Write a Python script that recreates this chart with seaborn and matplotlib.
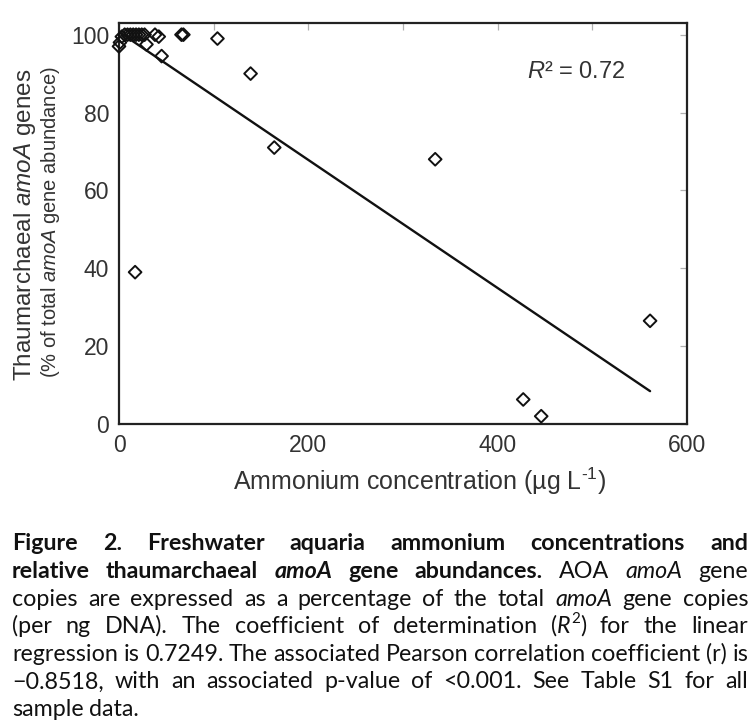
import matplotlib
matplotlib.use("Agg")
import matplotlib.pyplot as plt
from matplotlib import font_manager as fm
from matplotlib.transforms import IdentityTransform
import numpy as np
import pandas as pd
import seaborn as sns

# ---------------- data ----------------
ammonium = [0, 1, 3, 6, 9, 12, 15, 18, 21, 24, 27, 29, 38, 42, 45, 66, 68,
            104, 139, 164, 334, 17, 561, 427, 446]
thaum_pct = [97, 98, 99.5, 100, 100, 100, 100, 100, 100, 100, 100, 97.5, 100,
             99.5, 94.5, 100, 100, 99, 90, 71, 68, 39, 26.5, 6.3, 2]
x_ticks = [0, 100, 200, 300, 400, 500, 600]
x_tick_labels = ["0", "", "200", "", "400", "", "600"]
y_ticks = [0, 20, 40, 60, 80, 100]
r2_text = "0.72"

# ---------------- style ----------------
sns.set_theme(style="white")
plt.rcParams["font.family"] = ["Liberation Sans", "DejaVu Sans"]
plt.rcParams["mathtext.fontset"] = "custom"
plt.rcParams["mathtext.rm"] = "Liberation Sans"
plt.rcParams["mathtext.it"] = "Liberation Sans:italic"

W, H = 754, 725
fig = plt.figure(figsize=(W / 100, H / 100), dpi=100)
fig.patch.set_facecolor("white")

L, R, T, B = 119, 687, 23, 424
ax = fig.add_axes([L / W, 1 - B / H, (R - L) / W, (B - T) / H])

df = pd.DataFrame({"ammonium": ammonium, "thaum": thaum_pct})
sns.regplot(data=df, x="ammonium", y="thaum", ax=ax, scatter=False, ci=None,
            color="#111111", line_kws=dict(lw=1.7))
sns.scatterplot(data=df, x="ammonium", y="thaum", ax=ax, marker="D", s=42,
                facecolor="none", edgecolor="#111111", linewidth=1.4,
                clip_on=False, zorder=3)

ax.set_xlim(0, 600)
ax.set_ylim(0, 103)
ax.set_xticks(x_ticks)
ax.set_xticklabels(x_tick_labels)
ax.set_yticks(y_ticks)
ax.tick_params(direction="in", length=5, width=0.9, color="#b0b0b0",
               top=True, right=True, labelsize=16.5, pad=7,
               labelcolor="#333333")
for sp in ax.spines.values():
    sp.set_visible(True)
    sp.set_linewidth(1.6)
    sp.set_color("#222222")
ax.set_xlabel("")
ax.set_ylabel("")

ax.text(576 / W, 1 - 72 / H, "$R$² = " + r2_text, transform=fig.transFigure,
        ha="center", va="center", fontsize=17, color="#333333")

fig.text(420 / W, 1 - 481 / H, r"Ammonium concentration (µg L$^{\text{-1}}$)",
         ha="center", va="center", fontsize=18, color="#333333")
fig.text(25.5 / W, 1 - 225 / H, "Thaumarchaeal $amoA$ genes", rotation=90,
         ha="center", va="center", fontsize=17.5, color="#333333")
fig.text(50 / W, 1 - 222.5 / H, "(% of total $amoA$ gene abundance)",
         rotation=90, ha="center", va="center", fontsize=14.5,
         color="#333333")

# ---------------- caption (justified) ----------------
def _w(v):
    if isinstance(v, str):
        return fm.weight_dict.get(v, 400)
    return v

def has_full(fam):
    st = set()
    for f in fm.fontManager.ttflist:
        if f.name == fam:
            st.add((_w(f.weight) >= 600, f.style in ("italic", "oblique")))
    return {(False, False), (True, False), (False, True), (True, True)} <= st

cap_family = "DejaVu Sans"
for fam in ["Lato", "Open Sans", "Noto Sans", "Liberation Sans"]:
    if has_full(fam):
        cap_family = fam
        break

caption = [
    [[("Figure", "b")], [("2.", "b")], [("Freshwater", "b")], [("aquaria", "b")],
     [("ammonium", "b")], [("concentrations", "b")], [("and", "b")]],
    [[("relative", "b")], [("thaumarchaeal", "b")], [("amoA", "bi")],
     [("gene", "b")], [("abundances.", "b")], [("AOA", "r")], [("amoA", "i")],
     [("gene", "r")]],
    [[(w, "r")] for w in "copies are expressed as a percentage of the total".split()]
    + [[("amoA", "i")], [("gene", "r")], [("copies", "r")]],
    [[(w, "r")] for w in "(per ng DNA). The coefficient of determination".split()]
    + [[("(", "r"), ("R", "i"), ("2", "sup"), (")", "r")]]
    + [[(w, "r")] for w in "for the linear".split()],
    [[(w, "r")] for w in "regression is 0.7249. The associated Pearson correlation coefficient (r) is".split()],
    [[(w, "r")] for w in "\u22120.8518, with an associated p-value of <0.001. See Table S1 for all".split()],
    [[(w, "r")] for w in "sample data.".split()],
]

fig.canvas.draw()
renderer = fig.canvas.get_renderer()

def run_props(style, fs):
    p = dict(fontfamily=[cap_family, "DejaVu Sans"], fontsize=fs,
             color="#111111")
    if style in ("b", "bi"):
        p["fontweight"] = "bold"
    if style in ("i", "bi"):
        p["fontstyle"] = "italic"
    if style == "sup":
        p["fontsize"] = fs * 0.65
    return p

def place(x, y, s, props):
    t = fig.text(x, y, s, transform=IdentityTransform(), ha="left",
                 va="baseline", **props)
    return t, t.get_window_extent(renderer).width

def word_w(word, fs):
    tot = 0.0
    for s, st in word:
        t, w = place(0, 0, s, run_props(st, fs))
        t.remove()
        tot += w
    return tot

cap_l, cap_r = 12, 748
target = cap_r - cap_l
px = 100 / 72
fs0 = 13.0
ratios = []
for line in caption[:-1]:
    nat = sum(word_w(wd, fs0) for wd in line) + (len(line) - 1) * 0.22 * fs0 * px
    ratios.append(target / nat)
fs = fs0 * min(ratios) * 0.99

baselines = [550, 578, 605.5, 633, 661, 688.5, 716]
sp_nat = 0.22 * fs * px
for i, line in enumerate(caption):
    widths = [word_w(wd, fs) for wd in line]
    if i < len(caption) - 1 and len(line) > 1:
        gap = (target - sum(widths)) / (len(line) - 1)
    else:
        gap = sp_nat
    x = cap_l
    yb = H - baselines[i]
    for wd, ww in zip(line, widths):
        xx = x
        for s, st in wd:
            props = run_props(st, fs)
            dy = fs * 0.42 * px if st == "sup" else 0
            t, w = place(xx, yb + dy, s, props)
            xx += w
        x += ww + gap

fig.savefig("out.png", dpi=100, facecolor="white")
